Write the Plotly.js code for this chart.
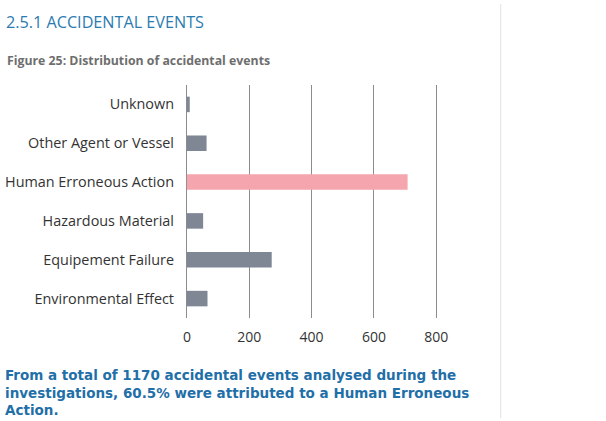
<!DOCTYPE html>
<html>
<head>
<meta charset="utf-8">
<script src="https://cdn.plot.ly/plotly-3.0.1.min.js"></script>
<style>
html,body{margin:0;padding:0;background:#fff;}
#chart{width:606px;height:421px;}
</style>
</head>
<body>
<div id="chart"></div>
<script>
const categories = ["Environmental Effect","Equipement Failure","Hazardous Material","Human Erroneous Action","Other Agent or Vessel","Unknown"];
const counts = [66, 272, 52, 708, 63, 9];
const barColors = ["#7f8795","#7f8795","#7f8795","#f4a5ae","#7f8795","#7f8795"];
const xTicks = [0, 200, 400, 600, 800];
const noteLines = [
  "From a total of 1170 accidental events analysed during the",
  "investigations, 60.5% were attributed to a Human Erroneous",
  "Action."
];

const pxPerUnit = 249.5 / 800;
const xMin = -3, xMax = 812;
const left = 187 + xMin * pxPerUnit;
const plotW = (xMax - xMin) * pxPerUnit;
const plotTop = 85, plotBot = 318;
const plotH = plotBot - plotTop;
function px2paperX(px){ return (px - left) / plotW; }
function px2paperY(py){ return (plotBot - py) / plotH; }

const trace = {
  type: "bar",
  orientation: "h",
  y: categories,
  x: counts,
  marker: {color: barColors},
  hoverinfo: "x+y"
};

const FONT = "Open Sans, sans-serif";

const annotations = [
  {xref: "paper", yref: "paper", x: px2paperX(4), y: px2paperY(22), xanchor: "left", yanchor: "middle",
   text: "2.5.1 ACCIDENTAL EVENTS", showarrow: false,
   font: {family: FONT, size: 16.2, color: "#2b7bb0"}},
  {xref: "paper", yref: "paper", x: px2paperX(5), y: px2paperY(61), xanchor: "left", yanchor: "middle",
   text: "<b>Figure 25: Distribution of accidental events</b>", showarrow: false,
   font: {family: FONT, size: 12.3, color: "#6e6e6e"}},
  {xref: "paper", yref: "paper", x: px2paperX(3), y: px2paperY(392.5), xanchor: "left", yanchor: "middle",
   align: "left", text: "<b>" + noteLines.join("<br>") + "</b>", showarrow: false,
   font: {family: "DejaVu Sans, sans-serif", size: 13.5, color: "#1f6fa8"}}
];

const layout = {
  width: 606, height: 421,
  paper_bgcolor: "#ffffff", plot_bgcolor: "#ffffff",
  margin: {l: left, r: 606 - left - plotW, t: plotTop, b: 421 - plotBot},
  bargap: 0.6,
  showlegend: false,
  font: {family: FONT, color: "#333333"},
  xaxis: {
    range: [xMin, xMax],
    tickvals: xTicks,
    ticktext: xTicks.map(String),
    showgrid: true, gridcolor: "#8c8c8c", gridwidth: 1,
    zeroline: true, zerolinecolor: "#8c8c8c", zerolinewidth: 1,
    showline: false,
    ticks: "outside", ticklen: 0,
    tickfont: {size: 14, color: "#333333"},
    ticklabelstandoff: 6
  },
  yaxis: {
    type: "category",
    categoryorder: "array", categoryarray: categories,
    showgrid: false, zeroline: false, showline: false,
    tickfont: {size: 14.4, color: "#333333"},
    ticklabelstandoff: 11
  },
  annotations: annotations,
  shapes: [
    {type: "line", xref: "paper", yref: "paper", x0: px2paperX(501), x1: px2paperX(501),
     y0: px2paperY(418), y1: px2paperY(4), line: {color: "#e2e2e2", width: 1}}
  ]
};

Plotly.newPlot("chart", [trace], layout, {displayModeBar: false, staticPlot: true});
</script>
</body>
</html>
